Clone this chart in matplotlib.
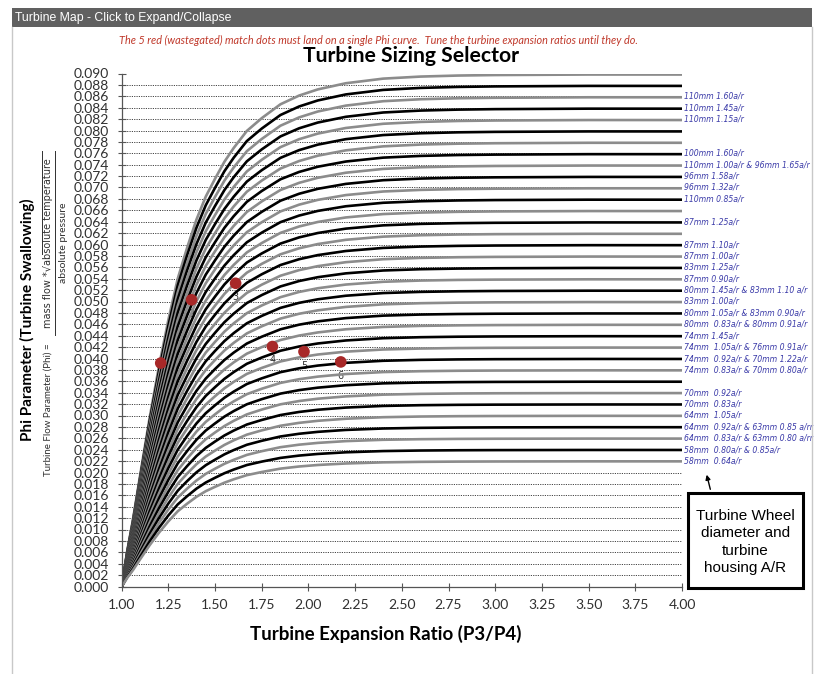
import numpy as np
import matplotlib
matplotlib.use('Agg')
import matplotlib.pyplot as plt
from matplotlib.patches import Rectangle, FancyArrowPatch
from matplotlib.lines import Line2D

# Expansion ratio sample points and the shared normalised swallowing profile
pr_points = [1.00, 1.03, 1.06, 1.10, 1.15, 1.20, 1.25, 1.30, 1.35, 1.40,
             1.45, 1.50, 1.55, 1.60, 1.67, 1.75, 1.85, 1.95, 2.05, 2.20,
             2.40, 2.60, 2.80, 3.00, 3.50, 4.00]
phi_shape = [0.0, 0.07, 0.13, 0.22, 0.33, 0.43, 0.52, 0.60, 0.66, 0.715,
             0.76, 0.795, 0.828, 0.855, 0.888, 0.913, 0.940, 0.957, 0.969,
             0.981, 0.990, 0.994, 0.996, 0.997, 0.998, 0.998]

# Max phi of each curve (top to bottom)
phi_max = [0.090, 0.088, 0.086, 0.084, 0.082, 0.080, 0.078, 0.076, 0.074,
           0.072, 0.070, 0.068, 0.066, 0.064, 0.062, 0.060, 0.058, 0.056,
           0.054, 0.052, 0.050, 0.048, 0.046, 0.044, 0.042, 0.040, 0.038,
           0.036, 0.034, 0.032, 0.030, 0.028, 0.026, 0.024, 0.022]

# Turbine labels on the right (level, text)
label_levels = [0.086, 0.084, 0.082, 0.076, 0.074, 0.072, 0.070, 0.068,
                0.064, 0.060, 0.058, 0.056, 0.054, 0.052, 0.050, 0.048,
                0.046, 0.044, 0.042, 0.040, 0.038, 0.034, 0.032, 0.030,
                0.028, 0.026, 0.024, 0.022]
label_texts = ['110mm 1.60a/r', '110mm 1.45a/r', '110mm 1.15a/r',
               '100mm 1.60a/r', '110mm 1.00a/r & 96mm 1.65a/r',
               '96mm 1.58a/r', '96mm 1.32a/r', '110mm 0.85a/r',
               '87mm 1.25a/r', '87mm 1.10a/r', '87mm 1.00a/r',
               '83mm 1.25a/r', '87mm 0.90a/r',
               '80mm 1.45a/r & 83mm 1.10 a/r', '83mm 1.00a/r',
               '80mm 1.05a/r & 83mm 0.90a/r',
               '80mm  0.83a/r & 80mm 0.91a/r', '74mm 1.45a/r',
               '74mm  1.05a/r & 76mm 0.91a/r',
               '74mm  0.92a/r & 70mm 1.22a/r',
               '74mm  0.83a/r & 70mm 0.80a/r',
               '70mm  0.92a/r', '70mm  0.83a/r', '64mm  1.05a/r',
               '64mm  0.92a/r & 63mm 0.85 a/rr',
               '64mm  0.83a/r & 63mm 0.80 a/rr',
               '58mm  0.80a/r & 0.85a/r', '58mm  0.64a/r']

# Wastegated match dots
dot_pr = [1.209, 1.374, 1.610, 1.807, 1.976, 2.173]
dot_phi = [0.0392, 0.0503, 0.0532, 0.0421, 0.0412, 0.0394]
dot_names = ['1', '2', '3', '4', '5', '6']

W, H = 825, 674
fig = plt.figure(figsize=(W / 100, H / 100), dpi=100)
fig.patch.set_facecolor('white')

def fx(x):
    return x / W

def fy(y):
    return 1 - y / H

# page frame and header bar
fig.add_artist(Rectangle((fx(12), fy(27)), fx(812) - fx(12), fy(8) - fy(27),
                         transform=fig.transFigure, facecolor='#606060',
                         edgecolor='none'))
fig.add_artist(Line2D([fx(12), fx(12)], [fy(27), fy(674)],
                      transform=fig.transFigure, color='#c8c8c8', lw=1))
fig.add_artist(Line2D([fx(812), fx(812)], [fy(27), fy(674)],
                      transform=fig.transFigure, color='#c8c8c8', lw=1))
fig.text(fx(15), fy(17.5), 'Turbine Map - Click to Expand/Collapse',
         color='white', fontsize=8.8, family='Liberation Sans', va='center')

fig.text(fx(378), fy(40), 'The 5 red (wastegated) match dots must land on a single Phi curve.  '
         'Tune the turbine expansion ratios until they do.',
         color='#c0392b', fontsize=7.8, style='italic', family='Lato',
         ha='center', va='center')
fig.text(fx(411), fy(56), 'Turbine Sizing Selector', fontsize=15.2,
         fontweight='bold', family='Lato', ha='center', va='center')

ax = fig.add_axes([fx(121.7), fy(586.5), fx(682) - fx(121.7), fy(73.5) - fy(586.5)])

# Curves
for i, pm in enumerate(phi_max):
    col = '#8c8c8c' if i % 2 == 0 else 'black'
    ax.plot(pr_points, [pm * s for s in phi_shape], color=col, lw=1.9,
            solid_capstyle='butt', solid_joinstyle='round', zorder=2)

# Dots
ax.scatter(dot_pr, dot_phi, s=70, color='#a82828', zorder=4, edgecolors='none')
for x, y, n in zip(dot_pr, dot_phi, dot_names):
    ax.annotate(n, (x, y), xytext=(0, -10), textcoords='offset points',
                ha='center', va='center', fontsize=7, color='#333333',
                family='DejaVu Sans', zorder=1.5)

# Right hand labels
for lv, tx in zip(label_levels, label_texts):
    ax.text(4.01, lv, tx, fontsize=5.6, style='italic', color='#3a3aa8',
            family='DejaVu Sans', va='center', ha='left', clip_on=False)

ax.set_xlim(1.0, 4.0)
ax.set_ylim(0.0, 0.090)
ax.set_xticks(np.arange(1.0, 4.01, 0.25))
ax.set_yticks(np.arange(0.0, 0.0901, 0.002))
ax.set_xticklabels(['%.2f' % v for v in np.arange(1.0, 4.01, 0.25)])
ax.set_yticklabels(['%.3f' % v for v in np.arange(0.0, 0.0901, 0.002)])
for lab in ax.get_xticklabels():
    lab.set_family('Lato')
    lab.set_fontsize(10)
    lab.set_color('#303030')
for lab in ax.get_yticklabels():
    lab.set_family('Lato')
    lab.set_fontsize(10)
    lab.set_color('#303030')
ax.tick_params(axis='both', direction='inout', length=6, width=0.8,
               color='#555555')
ax.tick_params(axis='x', pad=6)
ax.tick_params(axis='y', pad=6)

ax.yaxis.grid(True, linestyle=(0, (1.2, 1.2)), color='#444444', lw=0.7, zorder=0)
ax.set_axisbelow(True)
ax.get_ygridlines()[-1].set_visible(False)
ax.get_ygridlines()[0].set_visible(False)
for s in ['top', 'right']:
    ax.spines[s].set_visible(False)
for s in ['left', 'bottom']:
    ax.spines[s].set_color('#555555')
    ax.spines[s].set_linewidth(0.9)

ax.set_xlabel('Turbine Expansion Ratio (P3/P4)', fontsize=13.5, fontweight='bold',
              family='Lato')
ax.xaxis.set_label_coords((386 - 121.7) / (682 - 121.7), -(625 - 586.5) / 513.0)

# Y axis labels
fig.text(fx(27), fy(320), 'Phi Parameter (Turbine Swallowing)', rotation=90,
         fontsize=11, fontweight='bold', family='Lato', ha='center', va='center')
fig.text(fx(48), fy(410), 'Turbine Flow Parameter (Phi) =', rotation=90,
         fontsize=7, family='Lato', ha='center', va='center', color='#303030')
fig.text(fx(48), fy(243), 'mass flow *\u221aabsolute temperature', rotation=90,
         fontsize=7, family='DejaVu Sans', ha='center', va='center',
         color='#303030')
fig.add_artist(Line2D([fx(55), fx(55)], [fy(335), fy(151)],
                      transform=fig.transFigure, color='#303030', lw=0.7))
fig.add_artist(Line2D([fx(42), fx(42)], [fy(254), fy(151)],
                      transform=fig.transFigure, color='#303030', lw=0.7))
fig.text(fx(64), fy(243), 'absolute pressure', rotation=90,
         fontsize=7.5, family='Lato', ha='center', va='center', color='#303030')

# Callout box
fig.add_artist(Rectangle((fx(688), fy(588)), fx(803) - fx(688), fy(493) - fy(588),
                         transform=fig.transFigure, facecolor='white',
                         edgecolor='black', lw=2.2))
fig.text(fx(745.5), fy(542), 'Turbine Wheel\ndiameter and\nturbine\nhousing A/R',
         fontsize=11, family='Liberation Sans', ha='center', va='center',
         linespacing=1.32)
fig.add_artist(FancyArrowPatch((fx(711), fy(492)), (fx(706), fy(472)),
                               transform=fig.transFigure, arrowstyle='-|>',
                               mutation_scale=7, color='black', lw=1))

fig.savefig('out.png', dpi=100)
